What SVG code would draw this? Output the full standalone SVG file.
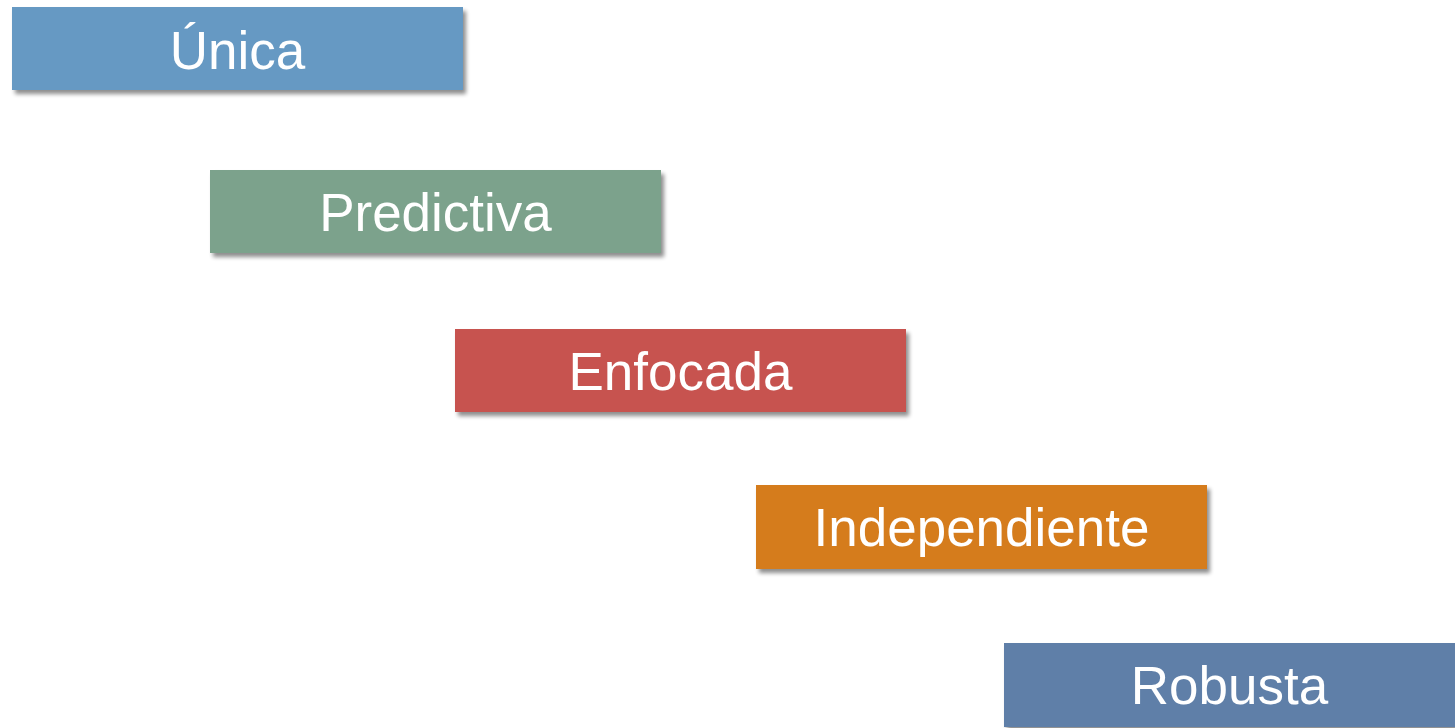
<svg xmlns="http://www.w3.org/2000/svg" width="1455" height="728" viewBox="0 0 1455 728">
<defs>
<filter id="sh" x="-5%" y="-20%" width="115%" height="150%">
<feGaussianBlur in="SourceAlpha" stdDeviation="2"/>
<feOffset dx="3" dy="4" result="b"/>
<feComponentTransfer><feFuncA type="linear" slope="0.45"/></feComponentTransfer>
<feMerge><feMergeNode/><feMergeNode in="SourceGraphic"/></feMerge>
</filter>
</defs>
<style>
.box{filter:url(#sh)}
.t{font-family:"Liberation Sans",Arial,sans-serif;font-size:53px;fill:#ffffff;text-anchor:middle}
</style>
<rect width="1455" height="728" fill="#ffffff"/>
<g id="connectors"></g>
<g id="unica"><rect class="box" x="12" y="7" width="451" height="83" fill="#6699c3"/><text class="t" x="237.5" y="69">Única</text></g>
<g id="predictiva"><rect class="box" x="210" y="170" width="451" height="83" fill="#7ba28c"/><text class="t" x="435.5" y="231">Predictiva</text></g>
<g id="enfocada"><rect class="box" x="455" y="329" width="451" height="83" fill="#c75250"/><text class="t" x="680.5" y="390">Enfocada</text></g>
<g id="independiente"><rect class="box" x="756" y="485" width="451" height="84" fill="#d57b1a"/><text class="t" x="981.5" y="546">Independiente</text></g>
<g id="robusta"><rect class="box" x="1004" y="643" width="451" height="84" fill="#5f7fa8"/><text class="t" x="1229.5" y="704">Robusta</text></g>
</svg>
